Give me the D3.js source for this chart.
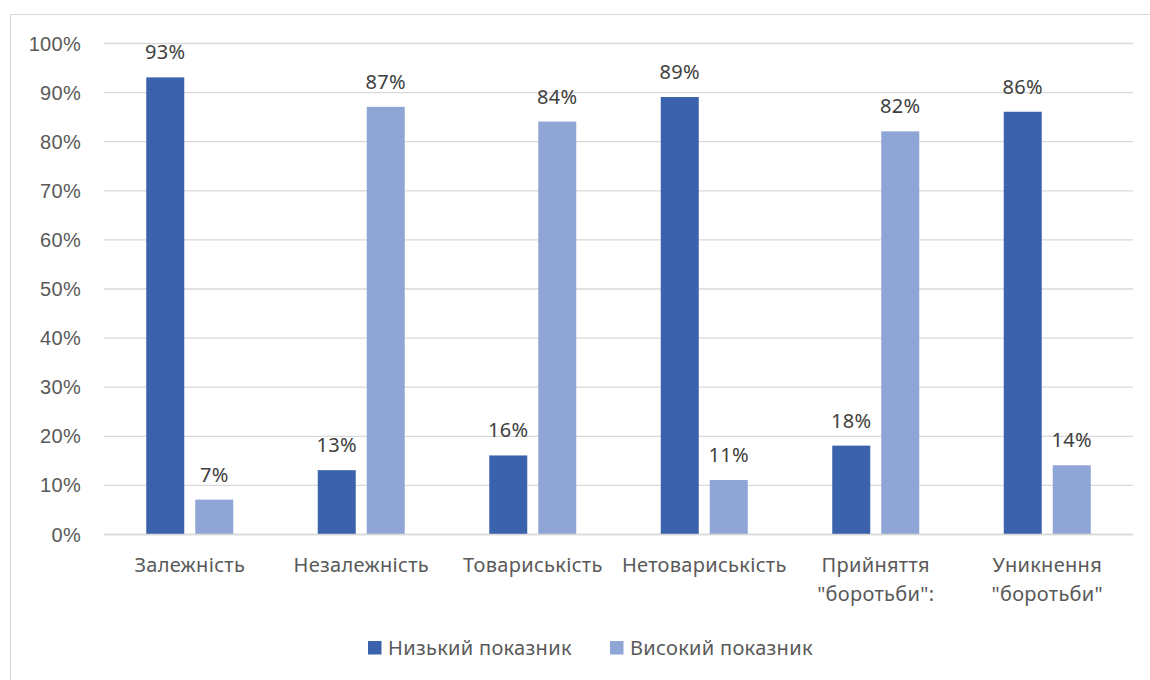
<!DOCTYPE html>
<html>
<head>
<meta charset="utf-8">
<script src="https://cdn.jsdelivr.net/npm/d3@7"></script>
<style>
  body { margin: 0; background: #fff; }
  svg { display: block; font-family: "Noto Sans", "Open Sans", sans-serif; letter-spacing: 0.3px; }
</style>
</head>
<body>
<div id="chart"></div>
<script>
const categories = [
  ['Залежність'],
  ['Незалежність'],
  ['Товариськість'],
  ['Нетовариськість'],
  ['Прийняття', '"боротьби":'],
  ['Уникнення', '"боротьби"']
];
const seriesNames = ['Низький показник', 'Високий показник'];
const lowValues = [0.93, 0.13, 0.16, 0.89, 0.18, 0.86];
const highValues = [0.07, 0.87, 0.84, 0.11, 0.82, 0.14];
const yTicks = [0, 0.1, 0.2, 0.3, 0.4, 0.5, 0.6, 0.7, 0.8, 0.9, 1];
const colors = ['#3B62AD', '#8FA5D5'];

const width = 1150;
const height = 680;
const plotLeft = 104, plotRight = 1133, plotTop = 43, plotBottom = 534;
const fontSize = 20;

const svg = d3.select('#chart')
  .append('svg')
  .attr('width', width)
  .attr('height', height);

// outer chart border
svg.append('rect')
  .attr('x', 10.5)
  .attr('y', 14.5)
  .attr('width', 1150)
  .attr('height', 700)
  .attr('fill', '#fff')
  .attr('stroke', '#d9d9d9')
  .attr('stroke-width', 1);

const catKeys = categories.map(c => c.join(' '));

const x0 = d3.scaleBand()
  .domain(catKeys)
  .range([plotLeft, plotRight]);

const x1 = d3.scaleBand()
  .domain(seriesNames)
  .range([0, 87])
  .paddingInner(11 / 49);

const barOffset = (x0.bandwidth() - 87) / 2;

const y = d3.scaleLinear()
  .domain([0, 1])
  .range([plotBottom, plotTop]);

// gridlines + y labels
const yAxis = d3.axisLeft(y)
  .tickValues(yTicks)
  .tickFormat(d3.format('.0%'))
  .tickSize(-(plotRight - plotLeft))
  .tickPadding(23);

const gy = svg.append('g')
  .attr('transform', `translate(${plotLeft},0)`)
  .call(yAxis);
gy.select('.domain').remove();
gy.selectAll('.tick line')
  .attr('stroke', '#d9d9d9')
  .attr('stroke-width', 1.3);
gy.selectAll('.tick text')
  .attr('fill', '#595959')
  .attr('font-size', fontSize)
  .attr('dy', '0.35em');

// bars
const seriesData = [lowValues, highValues];
seriesData.forEach((vals, si) => {
  const g = svg.append('g');
  g.selectAll('rect')
    .data(vals)
    .join('rect')
    .attr('x', (d, i) => x0(catKeys[i]) + barOffset + x1(seriesNames[si]))
    .attr('y', d => y(d))
    .attr('width', x1.bandwidth())
    .attr('height', d => y(0) - y(d))
    .attr('fill', colors[si]);

  g.selectAll('text')
    .data(vals)
    .join('text')
    .attr('x', (d, i) => x0(catKeys[i]) + barOffset + x1(seriesNames[si]) + x1.bandwidth() / 2)
    .attr('y', d => y(d) - 18)
    .attr('text-anchor', 'middle')
    .attr('fill', '#404040')
    .attr('font-size', fontSize)
    .text(d => d3.format('.0%')(d));
});

// x axis baseline
svg.append('line')
  .attr('x1', plotLeft)
  .attr('x2', plotRight)
  .attr('y1', y(0) + 0.5)
  .attr('y2', y(0) + 0.5)
  .attr('stroke', '#d9d9d9')
  .attr('stroke-width', 1.3);

// category labels
categories.forEach((lines, i) => {
  const cx = x0(catKeys[i]) + x0.bandwidth() / 2;
  const t = svg.append('text')
    .attr('text-anchor', 'middle')
    .attr('fill', '#595959')
    .attr('font-size', fontSize);
  lines.forEach((ln, j) => {
    t.append('tspan')
      .attr('x', cx)
      .attr('y', 572 + j * 29)
      .text(ln);
  });
});

// legend
const legendX = [368, 610];
seriesNames.forEach((name, i) => {
  const lg = svg.append('g')
    .attr('transform', `translate(${legendX[i]},641)`);
  lg.append('rect')
    .attr('width', 13.5)
    .attr('height', 13.5)
    .attr('fill', colors[i]);
  lg.append('text')
    .attr('x', 20)
    .attr('y', 13.5)
    .attr('fill', '#595959')
    .attr('font-size', fontSize)
    .text(name);
});
</script>
</body>
</html>
